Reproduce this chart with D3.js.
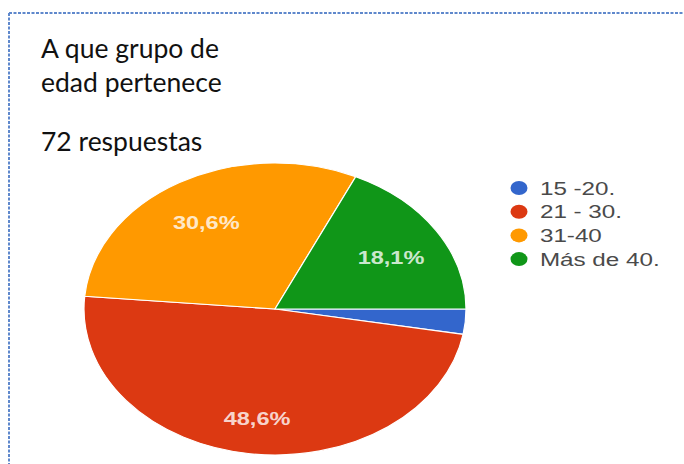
<!DOCTYPE html>
<html>
<head>
<meta charset="utf-8">
<script src="https://cdn.jsdelivr.net/npm/d3@7"></script>
<style>
  html, body { margin: 0; padding: 0; background: #fff; }
  svg { display: block; }
</style>
</head>
<body>
<script>
const categories = ["15 -20.", "21 - 30.", "31-40", "Más de 40."];
const values = [2, 35, 22, 13];
const colors = ["#3366CC", "#DC3912", "#FF9900", "#109618"];
const titleLines = ["A que grupo de", "edad pertenece"];
const subtitle = "72 respuestas";

const W = 684, H = 464;
const svg = d3.select("body").append("svg").attr("width", W).attr("height", H);

// dashed frame (top and left edges)
svg.append("line").attr("x1", 9).attr("y1", 13).attr("x2", W).attr("y2", 13)
  .attr("stroke", "#5f88cc").attr("stroke-width", 2).attr("stroke-dasharray", "3,1.5");
svg.append("line").attr("x1", 9).attr("y1", 13).attr("x2", 9).attr("y2", H)
  .attr("stroke", "#5f88cc").attr("stroke-width", 2).attr("stroke-dasharray", "3,1.5");

// titles
const tfont = "Lato, 'Noto Sans', sans-serif";
svg.selectAll("text.title").data(titleLines).join("text")
  .attr("class", "title")
  .attr("x", 41).attr("y", (d, i) => 58 + i * 34)
  .attr("font-family", tfont).attr("font-size", 26.5).attr("fill", "#111")
  .text(d => d);
svg.append("text").attr("x", 41).attr("y", 151)
  .attr("font-family", tfont).attr("font-size", 26.5).attr("fill", "#111")
  .text(subtitle);

// chart (horizontally stretched like the reference)
const R = 146;
const sx = 191 / R;
const cx = 275, cy = 309;
const chart = svg.append("g").attr("transform", `scale(${sx},1)`);
const g = chart.append("g").attr("transform", `translate(${cx / sx},${cy})`);

const total = d3.sum(values);
const color = d3.scaleOrdinal().domain(categories).range(colors);
const pie = d3.pie().sort(null).value(d => d.v)
  .startAngle(Math.PI / 2).endAngle(Math.PI / 2 + 2 * Math.PI);
const data = pie(categories.map((c, i) => ({ c, v: values[i] })));
const arc = d3.arc().innerRadius(0).outerRadius(R);
const labelArc = d3.arc().innerRadius(R * 0.72).outerRadius(R * 0.72);

g.selectAll("path").data(data).join("path")
  .attr("d", arc)
  .attr("fill", d => color(d.data.c))
  .attr("stroke", "#fff").attr("stroke-width", 1.2)
  .attr("vector-effect", "non-scaling-stroke");

g.selectAll("text.pl").data(data.filter(d => d.data.v / total >= 0.05)).join("text")
  .attr("class", "pl")
  .attr("transform", d => `translate(${labelArc.centroid(d)})`)
  .attr("text-anchor", "middle").attr("y", 5).attr("dy", "0.36em")
  .attr("font-family", "'Liberation Sans', Arial, sans-serif")
  .attr("font-size", 18).attr("font-weight", "bold")
  .attr("fill", "#fff").attr("fill-opacity", 0.8)
  .text(d => (d.data.v / total * 100).toFixed(1).replace(".", ",") + "%");

// legend
const lx = 519 / sx, ly0 = 188, lstep = 23.7;
const leg = chart.append("g");
const items = leg.selectAll("g").data(categories).join("g")
  .attr("transform", (d, i) => `translate(${lx},${ly0 + i * lstep})`);
items.append("ellipse").attr("rx", 6.5).attr("ry", 7).attr("fill", d => color(d));
items.append("text").attr("x", 16).attr("dy", "0.36em")
  .attr("font-family", "'Liberation Sans', Arial, sans-serif")
  .attr("font-size", 18.5).attr("fill", "#4a4a4a")
  .text(d => d);
</script>
</body>
</html>
